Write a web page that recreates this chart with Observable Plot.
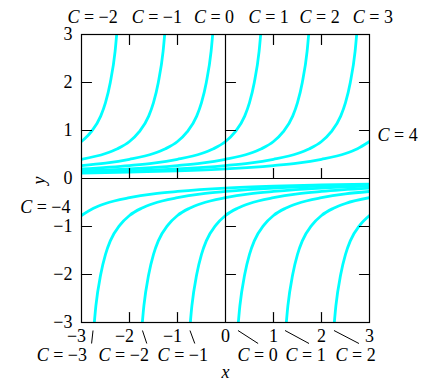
<!DOCTYPE html>
<html>
<head>
<meta charset="utf-8">
<script src="https://cdn.jsdelivr.net/npm/d3@7"></script>
<script src="https://cdn.jsdelivr.net/npm/@observablehq/plot@0.6"></script>
<style>
  body { margin: 0; background: #fff; }
  #chart svg text { white-space: pre; font-family: "Liberation Serif", "Times New Roman", serif; }
</style>
</head>
<body>
<div id="chart"></div>
<script>
// Axis tick values and their labels
const tickValues = [-3, -2, -1, 0, 1, 2, 3];
const tickLabels = ["\u22123", "\u22122", "\u22121", "0", "1", "2", "3"];
const innerTicks = [-2, -1, 1, 2];

// Solution curves y(x) for the family, one entry per branch.
// Upper branches (y > 0) lie left of x = C, lower branches (y < 0) right of it.
const upperBranches = [
  {C: -2, x: [-3, -2.8, -2.6, -2.5, -2.4, -2.3, -2.25],
          y: [0.77, 0.97, 1.3, 1.58, 2.0, 2.65, 3.2]},
  {C: -1, x: [-3, -2.5, -2.25, -2, -1.8, -1.6, -1.5, -1.4, -1.3, -1.25],
          y: [0.4, 0.52, 0.62, 0.77, 0.97, 1.3, 1.58, 2.0, 2.65, 3.2]},
  {C: 0,  x: [-3, -2.5, -2, -1.5, -1.25, -1, -0.8, -0.6, -0.5, -0.4, -0.3, -0.25],
          y: [0.27, 0.32, 0.4, 0.52, 0.62, 0.77, 0.97, 1.3, 1.58, 2.0, 2.65, 3.2]},
  {C: 1,  x: [-3, -2, -1.5, -1, -0.5, -0.25, 0, 0.2, 0.4, 0.5, 0.6, 0.7, 0.75],
          y: [0.2, 0.27, 0.32, 0.4, 0.52, 0.62, 0.77, 0.97, 1.3, 1.58, 2.0, 2.65, 3.2]},
  {C: 2,  x: [-3, -2, -1, -0.5, 0, 0.5, 0.75, 1, 1.2, 1.4, 1.5, 1.6, 1.7, 1.75],
          y: [0.16, 0.2, 0.27, 0.32, 0.4, 0.52, 0.62, 0.77, 0.97, 1.3, 1.58, 2.0, 2.65, 3.2]},
  {C: 3,  x: [-3, -2, -1, 0, 0.5, 1, 1.5, 1.75, 2, 2.2, 2.4, 2.5, 2.6, 2.7, 2.75],
          y: [0.135, 0.16, 0.2, 0.27, 0.32, 0.4, 0.52, 0.62, 0.77, 0.97, 1.3, 1.58, 2.0, 2.65, 3.2]},
  {C: 4,  x: [-3, -2, -1, 0, 1, 1.5, 2, 2.5, 2.75, 3],
          y: [0.115, 0.135, 0.16, 0.2, 0.27, 0.32, 0.4, 0.52, 0.62, 0.77]}
];

const lowerBranches = [
  {C: -4, x: [-3, -2.75, -2.5, -2, -1.5, -1, 0, 1, 2, 3],
          y: [-0.77, -0.62, -0.52, -0.4, -0.32, -0.27, -0.2, -0.16, -0.135, -0.115]},
  {C: -3, x: [-2.75, -2.7, -2.6, -2.5, -2.4, -2.2, -2, -1.75, -1.5, -1, -0.5, 0, 1, 2, 3],
          y: [-3.2, -2.65, -2.0, -1.58, -1.3, -0.97, -0.77, -0.62, -0.52, -0.4, -0.32, -0.27, -0.2, -0.16, -0.135]},
  {C: -2, x: [-1.75, -1.7, -1.6, -1.5, -1.4, -1.2, -1, -0.75, -0.5, 0, 0.5, 1, 2, 3],
          y: [-3.2, -2.65, -2.0, -1.58, -1.3, -0.97, -0.77, -0.62, -0.52, -0.4, -0.32, -0.27, -0.2, -0.16]},
  {C: -1, x: [-0.75, -0.7, -0.6, -0.5, -0.4, -0.2, 0, 0.25, 0.5, 1, 1.5, 2, 3],
          y: [-3.2, -2.65, -2.0, -1.58, -1.3, -0.97, -0.77, -0.62, -0.52, -0.4, -0.32, -0.27, -0.2]},
  {C: 0,  x: [0.25, 0.3, 0.4, 0.5, 0.6, 0.8, 1, 1.25, 1.5, 2, 2.5, 3],
          y: [-3.2, -2.65, -2.0, -1.58, -1.3, -0.97, -0.77, -0.62, -0.52, -0.4, -0.32, -0.27]},
  {C: 1,  x: [1.25, 1.3, 1.4, 1.5, 1.6, 1.8, 2, 2.25, 2.5, 3],
          y: [-3.2, -2.65, -2.0, -1.58, -1.3, -0.97, -0.77, -0.62, -0.52, -0.4]},
  {C: 2,  x: [2.25, 2.3, 2.4, 2.5, 2.6, 2.8, 3],
          y: [-3.2, -2.65, -2.0, -1.58, -1.3, -0.97, -0.77]}
];

// Curve annotations (data coordinates of each label anchor)
const topLabelC = [-2, -1, 0, 1, 2, 3];
const topLabelX = [-2.77, -1.43, -0.24, 0.90, 1.96, 3.07];
const bottomLabelC = [-3, -2, -1, 0, 1, 2];
const bottomLabelX = [-3.41, -2.12, -0.89, 0.67, 1.67, 2.71];
const leaderTopX = [-2.76, -1.73, -0.74, 0.26, 1.24, 2.26];
const leaderBottomX = [-2.79, -1.64, -0.64, 0.68, 1.74, 2.78];

const minus = v => (v < 0 ? "\u2212" + Math.abs(v) : String(v));

const points = [
  ...upperBranches.flatMap(b => b.x.map((x, i) => ({key: "u" + b.C, x, y: b.y[i]}))),
  ...lowerBranches.flatMap(b => b.x.map((x, i) => ({key: "l" + b.C, x, y: b.y[i]})))
];

const ticks = tickValues.map((v, i) => ({v, label: tickLabels[i]}));
const topLabels = topLabelC.map((c, i) => ({x: topLabelX[i], text: "C = " + minus(c)}));
const bottomLabels = bottomLabelC.map((c, i) => ({x: bottomLabelX[i], text: "C = " + minus(c)}));
const leaders = leaderTopX.map((x, i) => ({x1: x, x2: leaderBottomX[i]}));

// A plain line segment used for the inward tick marks
const tickShape = {draw(context, l) { context.moveTo(0, 0); context.lineTo(0, -l); }};
const tickOpts = {length: 10, anchor: "start", shape: tickShape, stroke: "black", strokeWidth: 1.2};

const font = "Liberation Serif";
const txt = {fill: "black", fontFamily: font, fontSize: 18};

const chart = Plot.plot({
  width: 425,
  height: 381,
  marginLeft: 81,
  marginRight: 56,
  marginTop: 34,
  marginBottom: 59,
  style: {fontFamily: font, fontSize: "18px", background: "#fff", color: "black"},
  x: {domain: [-3, 3], axis: null},
  y: {domain: [-3, 3], axis: null},
  marks: [
    Plot.line(points, {x: "x", y: "y", z: "key", stroke: "#00ffff", strokeWidth: 2.8,
      curve: "monotone-x", clip: true}),
    Plot.frame({stroke: "black", strokeWidth: 1.2}),
    Plot.ruleX([0], {stroke: "black", strokeWidth: 1.2}),
    Plot.ruleY([0], {stroke: "black", strokeWidth: 1.2}),
    // inward ticks on the frame edges and on the two centre axes
    Plot.vector(innerTicks, {x: d => d, y: 3, rotate: 180, ...tickOpts}),
    Plot.vector(innerTicks, {x: d => d, y: -3, rotate: 0, ...tickOpts}),
    Plot.vector(innerTicks, {x: d => d, y: 0, rotate: 0, ...tickOpts}),
    Plot.vector(innerTicks, {x: -3, y: d => d, rotate: 90, ...tickOpts}),
    Plot.vector(innerTicks, {x: 3, y: d => d, rotate: 270, ...tickOpts}),
    Plot.vector(innerTicks, {x: 0, y: d => d, rotate: 90, ...tickOpts}),
    // tick labels
    Plot.text(ticks.filter(d => d.v < 0), {x: "v", y: -3, text: "label", dy: 13.5, dx: -5, ...txt}),
    Plot.text(ticks.filter(d => d.v >= 0), {x: "v", y: -3, text: "label", dy: 13.5, ...txt}),
    Plot.text(ticks, {x: -3, y: "v", text: "label", textAnchor: "end", dx: -9, ...txt}),
    // axis names
    Plot.text(["x"], {x: 0, y: -3, dy: 50, text: d => d, fontStyle: "italic", ...txt}),
    Plot.text(["y"], {x: -3, y: 0, dx: -42, dy: 2, text: d => d, rotate: -90, fontStyle: "italic", ...txt}),
    // curve annotations
    Plot.text(topLabels, {x: "x", y: 3, dy: -17, text: "text", ...txt}),
    Plot.text(bottomLabels, {x: "x", y: -3, dy: 32.5, text: "text", ...txt}),
    Plot.link(leaders, {x1: "x1", x2: "x2", y1: -3, y2: -3, stroke: "black", strokeWidth: 1}),
    Plot.text(["C = 4"], {x: 3, y: 0.9, dx: 8, text: d => d, textAnchor: "start", ...txt}),
    Plot.text(["C = \u22124"], {x: -3, y: -0.6, dx: -11, text: d => d, textAnchor: "end", ...txt})
  ]
});

document.getElementById("chart").appendChild(chart);

// Leader lines run from just under the frame down to the bottom labels
d3.select(chart).selectAll("g[aria-label='link'] path").each(function() {
  const p = d3.select(this);
  const nums = p.attr("d").match(/-?[\d.]+/g).map(Number);
  const [ax, ay, bx] = [nums[0], nums[1], nums[2]];
  p.attr("d", `M${ax},${ay + 8}L${bx},${ay + 21}`);
});

// Set the letter C in italics inside the annotation labels
d3.select(chart).selectAll("text").each(function() {
  const s = this.textContent;
  if (s.startsWith("C = ")) {
    const t = d3.select(this);
    t.text(null);
    t.append("tspan").attr("font-style", "italic").text("C");
    t.append("tspan").text(s.slice(1));
  }
});
</script>
</body>
</html>
